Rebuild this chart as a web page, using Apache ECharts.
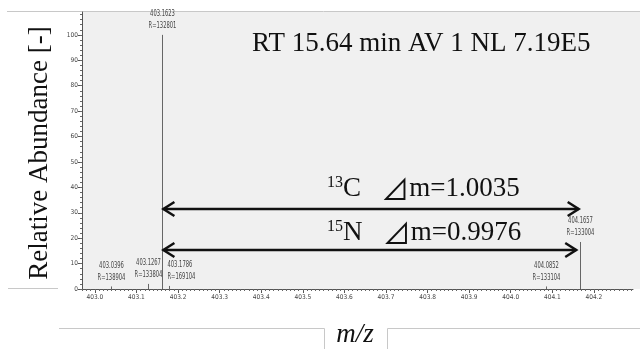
<!DOCTYPE html>
<html>
<head>
<meta charset="utf-8">
<script src="https://cdn.jsdelivr.net/npm/echarts@6/dist/echarts.min.js"></script>
<style>
  html, body { margin: 0; padding: 0; background: #fff; }
  #chart { width: 640px; height: 349px; }
</style>
</head>
<body>
<div id="chart"></div>
<script>
// peaks
const peakMz = [403.0396, 403.1267, 403.1623, 403.1786, 404.0852, 404.1657]
const peakIntensity = [1.0, 2.0, 100, 1.2, 1.0, 18.5]
const peakResolution = ['R=138904', 'R=133804', 'R=132801', 'R=169104', 'R=133104', 'R=133004']

// tick labels
const xTickLabels = [403.0, 403.1, 403.2, 403.3, 403.4, 403.5, 403.6, 403.7, 403.8, 403.9, 404.0, 404.1, 404.2]
const yTickLabels = [0, 10, 20, 30, 40, 50, 60, 70, 80, 90, 100]

// isotope spacing arrows
const arrowFrom = [403.1623, 403.1623]
const arrowTo = [404.1658, 404.1599]
const arrowLevel = [31.3, 15.4]
const isotopeMass = ['13', '15']
const isotopeElement = ['C', 'N']
const deltaMass = ['1.0035', '0.9976']

const X_MIN = 402.969
const X_MAX = 404.294
const Y_MAX = 109

// minor tick positions
const xMinor = []
for (let i = 0; i <= 132; i++) xMinor.push(+(402.97 + i * 0.01).toFixed(2))
const yMinor = []
for (let v = 0; v <= 108; v += 2) yMinor.push(v)

const smallFont = '\'Liberation Sans Narrow\', \'DejaVu Sans Condensed\', sans-serif'
const serif = '\'Liberation Serif\', \'DejaVu Serif\', serif'

const chart = echarts.init(document.getElementById('chart'))

const option = {
  animation: false,
  backgroundColor: '#fff',
  grid: { left: 82, right: 7, top: 12, bottom: 60 },
  xAxis: [
    {
      type: 'value',
      min: X_MIN,
      max: X_MAX,
      position: 'bottom',
      splitLine: { show: false },
      axisLine: { lineStyle: { color: '#555', width: 1 } },
      axisTick: { customValues: xTickLabels, length: 4, lineStyle: { color: '#555' } },
      axisLabel: {
        customValues: xTickLabels,
        formatter: v => v.toFixed(1),
        fontFamily: smallFont,
        fontSize: 6.5,
        color: '#444',
        margin: 5,
      },
    },
    {
      type: 'value',
      min: X_MIN,
      max: X_MAX,
      position: 'bottom',
      splitLine: { show: false },
      axisLine: { show: false },
      axisTick: { customValues: xMinor, length: 2, lineStyle: { color: '#666' } },
      axisLabel: { show: false },
    },
  ],
  yAxis: [
    {
      type: 'value',
      min: 0,
      max: Y_MAX,
      position: 'left',
      splitLine: { show: false },
      axisLine: { show: true, lineStyle: { color: '#555', width: 1 } },
      axisTick: { customValues: yTickLabels, length: 4, lineStyle: { color: '#555' } },
      axisLabel: {
        customValues: yTickLabels,
        fontFamily: smallFont,
        fontSize: 6.5,
        color: '#444',
        margin: 4,
      },
    },
    {
      type: 'value',
      min: 0,
      max: Y_MAX,
      position: 'left',
      splitLine: { show: false },
      axisLine: { show: false },
      axisTick: { customValues: yMinor, length: 2, lineStyle: { color: '#666' } },
      axisLabel: { show: false },
    },
  ],
  graphic: [
    // gray plot panel
    { type: 'rect', z: -100, shape: { x: 82, y: 12, width: 558, height: 277 }, style: { fill: '#f0f0f0' } },
    { type: 'line', shape: { x1: 7, y1: 11.5, x2: 640, y2: 11.5 }, style: { stroke: '#c8c8c8', lineWidth: 1 } },
    { type: 'line', shape: { x1: 8, y1: 288.5, x2: 58, y2: 288.5 }, style: { stroke: '#c8c8c8', lineWidth: 1 } },
    { type: 'polyline', shape: { points: [[59, 328.5], [324.5, 328.5], [324.5, 349]] }, style: { stroke: '#c8c8c8', fill: null, lineWidth: 1 } },
    { type: 'polyline', shape: { points: [[387.5, 349], [387.5, 328.5], [640, 328.5]] }, style: { stroke: '#c8c8c8', fill: null, lineWidth: 1 } },
    {
      type: 'text',
      style: { text: 'RT 15.64 min AV 1 NL 7.19E5', x: 252, y: 44, fontFamily: serif, fontSize: 27, fill: '#111', verticalAlign: 'middle' },
    },
    {
      type: 'text',
      x: 40,
      y: 153,
      rotation: Math.PI / 2,
      style: { text: 'Relative Abundance [-]', x: 0, y: 0, fontFamily: serif, fontSize: 27, fill: '#111', align: 'center', verticalAlign: 'middle' },
    },
    {
      type: 'text',
      style: { text: 'm/z', x: 355, y: 335, fontFamily: serif, fontStyle: 'italic', fontSize: 27, fill: '#111', align: 'center', verticalAlign: 'middle' },
    },
    ...isotopeMass.map((m, i) => ({
      type: 'text',
      style: {
        text: '{sup|' + m + '}{t|' + isotopeElement[i] + '   }{tri|\u22BF}{t|m=' + deltaMass[i] + '}',
        x: 327,
        y: i === 0 ? 189 : 233,
        verticalAlign: 'middle',
        rich: {
          sup: { fontFamily: serif, fontSize: 16, fill: '#111', verticalAlign: 'top', lineHeight: 28 },
          t: { fontFamily: serif, fontSize: 27, fill: '#111', lineHeight: 28 },
          tri: { fontFamily: '\'Noto Sans CJK SC\', \'DejaVu Sans\'', fontSize: 28, fill: '#111', lineHeight: 28 },
        },
      },
    })),
  ],
  series: [
    {
      type: 'custom',
      name: 'peaks',
      xAxisIndex: 0,
      yAxisIndex: 0,
      data: peakMz.map((mz, i) => [mz, peakIntensity[i], i]),
      renderItem(params, api) {
        const i = api.value(2)
        const base = api.coord([api.value(0), 0])
        const top = api.coord([api.value(0), api.value(1)])
        const px = Math.round(base[0]) + 0.5
        const leftAligned = peakMz[i] === 403.1786
        return {
          type: 'group',
          children: [
            { type: 'line', shape: { x1: px, y1: base[1], x2: px, y2: top[1] }, style: { stroke: '#666', lineWidth: 1 } },
            {
              type: 'text',
              x: leftAligned ? px - 2 : px,
              y: top[1] - 3,
              scaleX: 0.68,
              style: {
                text: peakMz[i].toFixed(4) + '\n' + peakResolution[i],
                x: 0,
                y: 0,
                align: leftAligned ? 'left' : 'center',
                verticalAlign: 'bottom',
                fontFamily: smallFont,
                fontSize: 8.5,
                lineHeight: 12,
                fill: '#444',
              },
            },
          ],
        }
      },
    },
    {
      type: 'custom',
      name: 'arrows',
      xAxisIndex: 0,
      yAxisIndex: 0,
      data: arrowFrom.map((f, i) => [f, arrowTo[i], arrowLevel[i]]),
      renderItem(params, api) {
        const a = api.coord([api.value(0), api.value(2)])
        const b = api.coord([api.value(1), api.value(2)])
        const y = Math.round(a[1])
        const s = { stroke: '#111', lineWidth: 2.5, fill: null }
        return {
          type: 'group',
          children: [
            { type: 'line', shape: { x1: a[0] + 1, y1: y, x2: b[0] - 1, y2: y }, style: s },
            { type: 'polyline', shape: { points: [[a[0] + 12, y - 7], [a[0] + 1, y], [a[0] + 12, y + 7]] }, style: s },
            { type: 'polyline', shape: { points: [[b[0] - 12, y - 7], [b[0] - 1, y], [b[0] - 12, y + 7]] }, style: s },
          ],
        }
      },
    },
  ],
}

chart.setOption(option)
</script>
</body>
</html>
